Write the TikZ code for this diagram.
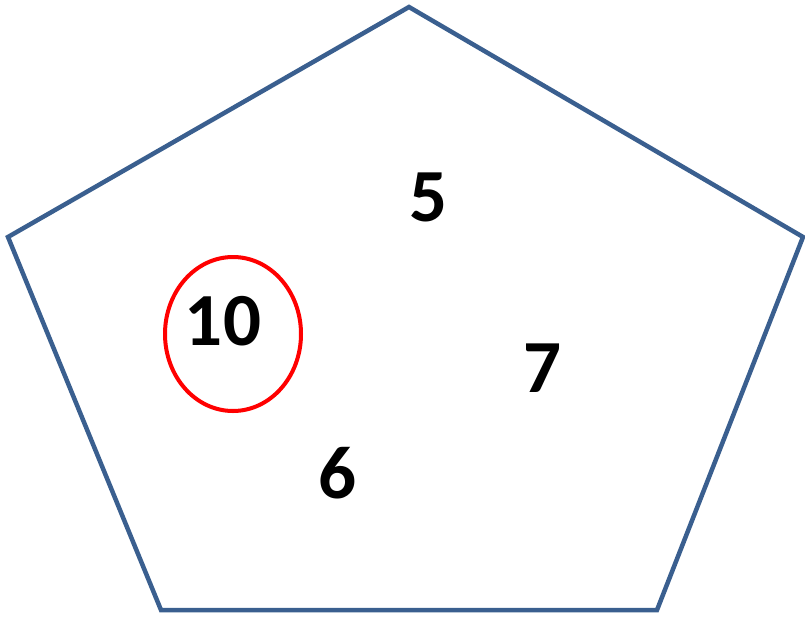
\documentclass[tikz,border=0pt]{standalone}
\usepackage{fontspec}
\setmainfont{Carlito}
\usetikzlibrary{shapes.geometric}

\definecolor{edgeblue}{HTML}{3A5F8F}
\tikzset{
  num/.style={font=\fontsize{75}{75}\selectfont\bfseries, inner sep=0pt},
  mark ring/.style={draw=red, line width=4pt, ellipse, minimum width=136pt, minimum height=154pt, inner sep=0pt}
}

\begin{document}
\begin{tikzpicture}[x=1pt, y=-1pt]
    \useasboundingbox (0,0) rectangle (805,616);
    % Corners
    \coordinate (top) at (409,7);
    \coordinate (right) at (803,237);
    \coordinate (bright) at (657,610);
    \coordinate (bleft) at (161,610);
    \coordinate (left) at (8,237);
    \draw[edgeblue, line width=4.5pt, line join=miter] (top) -- (right) -- (bright) -- (bleft) -- (left) -- cycle;

    % Numbers
    \node[num] (five) at (428,197) {5};
    \node[num] (ten) at (223,321) {10};
    \node[num] (seven) at (542,368) {7};
    \node[num] (six) at (338,473) {6};

    % Ring round 10
    \node[mark ring] (ring) at (233,334) {};
\end{tikzpicture}
\end{document}
